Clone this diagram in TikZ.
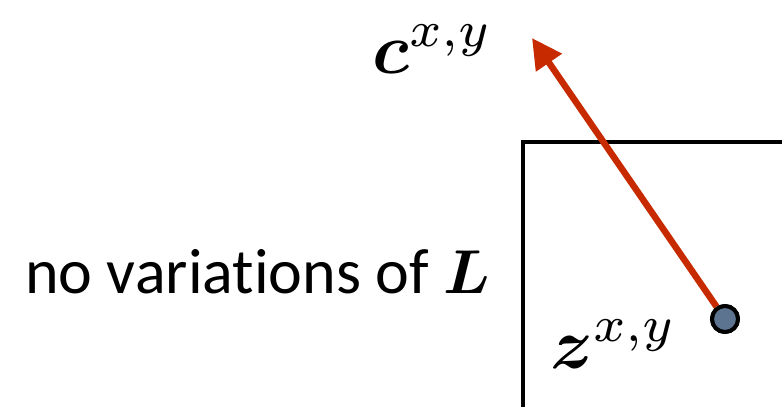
\documentclass[tikz,border=0pt]{standalone}
\usepackage{graphicx}
\usepackage{bm}
\usepackage{fontspec}
\setmainfont[Ligatures=NoCommon]{Carlito}
\usetikzlibrary{arrows.meta}
\definecolor{arrowred}{HTML}{C82A00}
\definecolor{dotblue}{HTML}{5D7490}
\newcommand{\scaledmath}[2]{\scalebox{#1}{\normalsize$#2$}}
\tikzset{
  lbl/.style={inner sep=0pt, anchor=base west, font=\fontsize{64}{70}\selectfont},
  mlbl/.style={inner sep=0pt, anchor=base west},
  frame/.style={draw=black, line width=4.5pt},
  vec/.style={draw=arrowred, line width=6.5pt, -{Triangle[length=30pt,width=30pt]}},
  pt/.style={circle, draw=black, line width=4pt, fill=dotblue, minimum size=26pt, inner sep=0pt}
}
\begin{document}
\begin{tikzpicture}[x=1pt,y=-1pt]
\useasboundingbox (0,0) rectangle (782,407);
\clip (0,0) rectangle (782,407);
\draw[frame] (523,142) rectangle (820,440);
\node[mlbl] (c) at (372,73) {\scaledmath{7.2}{\bm{c}^{x,y}}};
\node[mlbl] (zl) at (550,368) {\scaledmath{7.2}{\bm{z}^{x,y}}};
\node[lbl] (t) at (25,293) {no variations of \scaledmath{6.2}{\bm{L}}};
\coordinate (tip) at (532,38);
\node[pt] (z) at (725,319) {};
\draw[vec] (z) -- (tip);
\node[pt] at (z) {};
\end{tikzpicture}
\end{document}
